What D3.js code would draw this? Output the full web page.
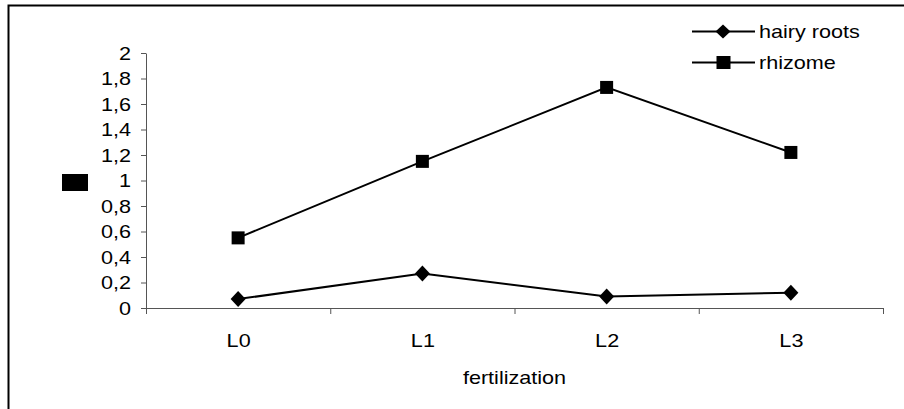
<!DOCTYPE html>
<html><head><meta charset="utf-8">
<script src="https://cdn.jsdelivr.net/npm/d3@7"></script>
<style>
body{margin:0;background:#fff;}
text{font-family:"Liberation Sans",Arial,sans-serif;fill:#000;}
</style></head>
<body><svg id="c" width="904" height="409"></svg>
<script>
const categories = ["L0","L1","L2","L3"];
const hairyRoots = [0.07, 0.27, 0.09, 0.12];
const rhizome = [0.55, 1.15, 1.73, 1.22];
const yTicks = [0,0.2,0.4,0.6,0.8,1,1.2,1.4,1.6,1.8,2];
const seriesNames = ["hairy roots","rhizome"];
const xTitle = "fertilization";

const SX = 1.2, FS = 18;
const svg = d3.select("#c");
svg.append("rect").attr("x",8.5).attr("y",5.5).attr("width",1000).attr("height",1000)
  .attr("fill","#fff").attr("stroke","#000").attr("stroke-width",2);

const x0 = 146, x1 = 883, yb = 308, yt = 53;
const xBand = d3.scaleBand().domain(categories).range([x0,x1]);
const x = d3.scalePoint().domain(categories).range([x0,x1]).padding(0.5);
const y = d3.scaleLinear().domain([0,2]).range([yb,yt]);
const loc = d3.formatLocale({decimal:",",thousands:".",grouping:[3],currency:["",""]});
const fmt = loc.format(".1~f");

// y axis
const ya = svg.append("g").attr("transform",`translate(${x0},0)`)
  .call(d3.axisLeft(y).tickValues(yTicks).tickFormat(fmt).tickSize(5).tickSizeOuter(0));
ya.select(".domain").attr("stroke","#555");
ya.selectAll(".tick line").attr("stroke","#555");
ya.selectAll(".tick text").attr("x",0).attr("dy","0.36em").attr("font-size",FS)
  .attr("font-family","Liberation Sans, Arial, sans-serif")
  .attr("transform",`translate(-15,0) scale(${SX},1)`);

// x axis
const xa = svg.append("g").attr("transform",`translate(0,${yb})`)
  .call(d3.axisBottom(x).tickSize(0).tickSizeOuter(0));
xa.select(".domain").attr("stroke","#555").attr("d",`M${x0},0.5H${x1}`);
xa.selectAll(".tick text").attr("y",0).attr("dy",0).attr("font-size",FS)
  .attr("font-family","Liberation Sans, Arial, sans-serif")
  .attr("transform",`translate(0,39) scale(${SX},1)`);
const edges = categories.map(c=>xBand(c)).concat([x1]);
xa.selectAll(".edge").data(edges).join("line").attr("class","edge")
  .attr("x1",d=>d+0.5).attr("x2",d=>d+0.5).attr("y1",0).attr("y2",6).attr("stroke","#555");

// x title
svg.append("text").attr("text-anchor","middle").attr("font-size",FS)
  .attr("transform",`translate(${(x0+x1)/2},384) scale(${SX},1)`).text(xTitle);

// y title placeholder (black block)
svg.append("rect").attr("x",62).attr("y",174).attr("width",26).attr("height",17).attr("fill","#000");

// lines
const line = d3.line().x((d,i)=>x(categories[i])).y(d=>y(d));
[hairyRoots, rhizome].forEach(s=>{
  svg.append("path").attr("d",line(s)).attr("fill","none").attr("stroke","#000").attr("stroke-width",2);
});
const diamond = (cx,cy,w,h)=>`M${cx},${cy-h/2}L${cx+w/2},${cy}L${cx},${cy+h/2}L${cx-w/2},${cy}Z`;
svg.selectAll(".dm").data(hairyRoots).join("path").attr("class","dm")
  .attr("d",(d,i)=>diamond(x(categories[i]),y(d),15,16)).attr("fill","#000");
svg.selectAll(".sq").data(rhizome).join("rect").attr("class","sq")
  .attr("x",(d,i)=>x(categories[i])-6.5).attr("y",d=>y(d)-6.5).attr("width",13).attr("height",13).attr("fill","#000");

// legend
const legY = [31.5, 62.5];
legY.forEach((ly,i)=>{
  svg.append("line").attr("x1",692).attr("x2",755).attr("y1",ly).attr("y2",ly).attr("stroke","#000").attr("stroke-width",2);
  if(i===0) svg.append("path").attr("d",diamond(723,ly,15,14)).attr("fill","#000");
  else svg.append("rect").attr("x",716.5).attr("y",ly-6.5).attr("width",14).attr("height",13).attr("fill","#000");
  svg.append("text").attr("font-size",FS).attr("transform",`translate(759,${ly+6}) scale(${SX},1)`).text(seriesNames[i]);
});
</script></body></html>
